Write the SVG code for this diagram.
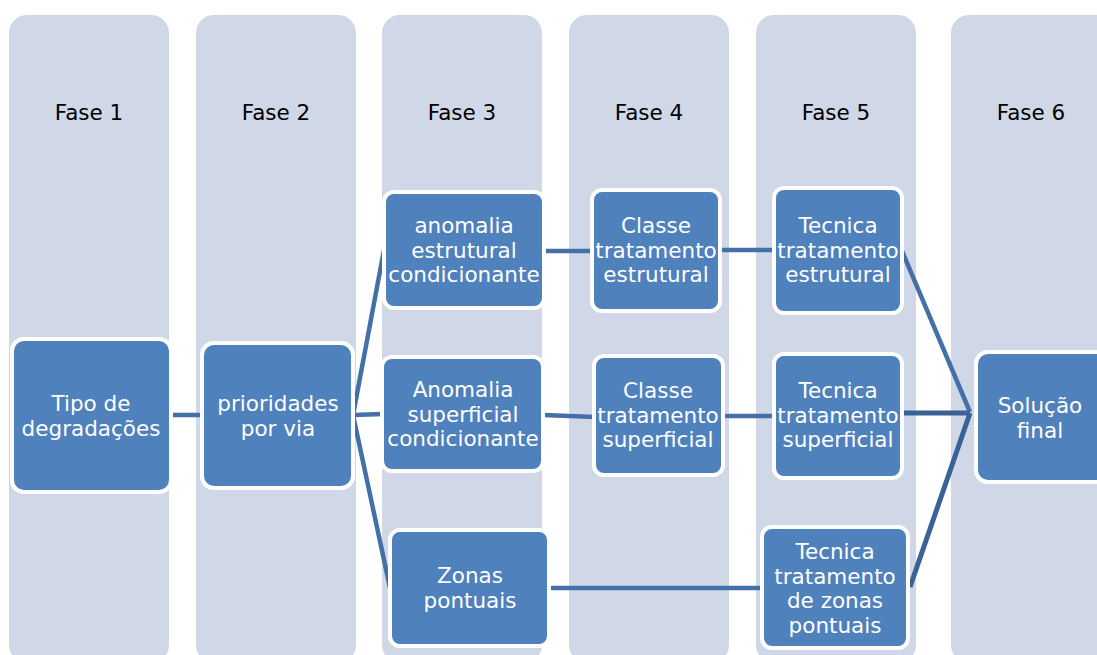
<svg xmlns="http://www.w3.org/2000/svg" width="1097" height="655" viewBox="0 0 1097 655">
  <style>
    .col { fill: #D0D8E8; }
    .phase { font-family: "DejaVu Sans", "Liberation Sans", sans-serif; font-size: 21.5px; fill: #000000; text-anchor: middle; }
    .box { fill: #4F81BD; stroke: #FFFFFF; stroke-width: 4; }
    .lbl { font-family: "DejaVu Sans", "Liberation Sans", sans-serif; font-size: 21.5px; fill: #FFFFFF; text-anchor: middle; }
    .link { stroke: #4370A6; stroke-width: 4.5; fill: none; }
    .link-dark { stroke: #3A6296; stroke-width: 5; fill: none; }
  </style>

  <rect width="1097" height="655" fill="#FFFFFF"/>

  <!-- phase columns -->
  <g id="phases">
    <g id="phase-1"><rect class="col" x="9" y="15" width="160" height="648" rx="18"/><text class="phase" x="89" y="120">Fase 1</text></g>
    <g id="phase-2"><rect class="col" x="196" y="15" width="160" height="648" rx="18"/><text class="phase" x="276" y="120">Fase 2</text></g>
    <g id="phase-3"><rect class="col" x="382" y="15" width="160" height="648" rx="18"/><text class="phase" x="462" y="120">Fase 3</text></g>
    <g id="phase-4"><rect class="col" x="569" y="15" width="160" height="648" rx="18"/><text class="phase" x="649" y="120">Fase 4</text></g>
    <g id="phase-5"><rect class="col" x="756" y="15" width="160" height="648" rx="18"/><text class="phase" x="836" y="120">Fase 5</text></g>
    <g id="phase-6"><rect class="col" x="951" y="15" width="180" height="648" rx="18"/><text class="phase" x="1031" y="120">Fase 6</text></g>
  </g>

  <!-- connectors -->
  <g id="connectors">
    <line class="link" x1="170" y1="415" x2="204" y2="415"/>
    <line class="link" x1="353" y1="415" x2="384" y2="250"/>
    <line class="link" x1="353" y1="415" x2="383" y2="414"/>
    <line class="link" x1="353" y1="415" x2="390" y2="588"/>
    <line class="link" x1="544" y1="251" x2="593" y2="251"/>
    <line class="link" x1="543" y1="415" x2="595" y2="417"/>
    <line class="link" x1="720" y1="250" x2="775" y2="250"/>
    <line class="link" x1="723" y1="416" x2="775" y2="416"/>
    <line class="link" x1="549" y1="588" x2="763" y2="588"/>
    <line class="link" x1="902" y1="251" x2="970" y2="412"/>
    <line class="link-dark" x1="902" y1="413" x2="970" y2="413"/>
    <line class="link-dark" x1="910" y1="587" x2="970" y2="413"/>
  </g>

  <!-- nodes -->
  <g id="node-tipo">
    <rect class="box" x="12" y="339" width="159" height="153" rx="12"/>
    <text class="lbl" x="91"><tspan x="91" y="411">Tipo de</tspan><tspan x="91" y="435.5">degradações</tspan></text>
  </g>
  <g id="node-prioridades">
    <rect class="box" x="202" y="343" width="151" height="145" rx="12"/>
    <text class="lbl" x="278"><tspan x="278" y="411">prioridades</tspan><tspan x="278" y="435.5">por via</tspan></text>
  </g>
  <g id="node-anomalia-estrutural">
    <rect class="box" x="384" y="192" width="160" height="116" rx="10"/>
    <text class="lbl" x="464"><tspan x="464" y="233">anomalia</tspan><tspan x="464" y="257.5">estrutural</tspan><tspan x="464" y="282">condicionante</tspan></text>
  </g>
  <g id="node-anomalia-superficial">
    <rect class="box" x="382" y="357" width="161" height="114" rx="10"/>
    <text class="lbl" x="463"><tspan x="463" y="397">Anomalia</tspan><tspan x="463" y="421.5">superficial</tspan><tspan x="463" y="446">condicionante</tspan></text>
  </g>
  <g id="node-zonas">
    <rect class="box" x="390" y="530" width="159" height="116" rx="10"/>
    <text class="lbl" x="470"><tspan x="470" y="583">Zonas</tspan><tspan x="470" y="607.5">pontuais</tspan></text>
  </g>
  <g id="node-classe-estrutural">
    <rect class="box" x="592" y="190" width="128" height="121" rx="10"/>
    <text class="lbl" x="656"><tspan x="656" y="233">Classe</tspan><tspan x="656" y="257.5">tratamento</tspan><tspan x="656" y="282">estrutural</tspan></text>
  </g>
  <g id="node-classe-superficial">
    <rect class="box" x="594" y="356" width="129" height="119" rx="10"/>
    <text class="lbl" x="658"><tspan x="658" y="398">Classe</tspan><tspan x="658" y="422.5">tratamento</tspan><tspan x="658" y="447">superficial</tspan></text>
  </g>
  <g id="node-tecnica-estrutural">
    <rect class="box" x="774" y="188" width="128" height="125" rx="10"/>
    <text class="lbl" x="838"><tspan x="838" y="233">Tecnica</tspan><tspan x="838" y="257.5">tratamento</tspan><tspan x="838" y="282">estrutural</tspan></text>
  </g>
  <g id="node-tecnica-superficial">
    <rect class="box" x="774" y="354" width="128" height="124" rx="10"/>
    <text class="lbl" x="838"><tspan x="838" y="398">Tecnica</tspan><tspan x="838" y="422.5">tratamento</tspan><tspan x="838" y="447">superficial</tspan></text>
  </g>
  <g id="node-tecnica-zonas">
    <rect class="box" x="762" y="527" width="146" height="121" rx="10"/>
    <text class="lbl" x="835"><tspan x="835" y="559">Tecnica</tspan><tspan x="835" y="583.5">tratamento</tspan><tspan x="835" y="608">de zonas</tspan><tspan x="835" y="632.5">pontuais</tspan></text>
  </g>
  <g id="node-solucao">
    <rect class="box" x="976" y="352" width="140" height="130" rx="12"/>
    <text class="lbl" x="1040"><tspan x="1040" y="413">Solução</tspan><tspan x="1040" y="437.5">final</tspan></text>
  </g>
</svg>
